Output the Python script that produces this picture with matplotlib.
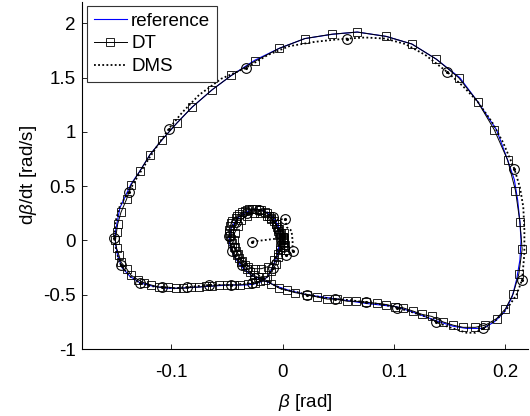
import numpy as np
import matplotlib.pyplot as plt

plt.rcParams['font.family'] = ['Liberation Sans', 'DejaVu Sans']
plt.rcParams['mathtext.fontset'] = 'custom'
plt.rcParams['mathtext.rm'] = 'Liberation Sans'
plt.rcParams['mathtext.it'] = 'Liberation Sans:italic'
plt.rcParams['axes.unicode_minus'] = False

# reference trajectory (beta [rad], dbeta/dt [rad/s])
ref_beta = [-0.002, -0.003, -0.005, -0.009, -0.013, -0.019, -0.025, -0.032, -0.048, -0.063,
            -0.077, -0.093, -0.104, -0.117, -0.128, -0.137, -0.144, -0.148, -0.150, -0.150,
            -0.148, -0.146, -0.141, -0.136, -0.128, -0.119, -0.108, -0.095, -0.081, -0.063,
            -0.046, -0.025, -0.003, 0.020, 0.045, 0.067, 0.093, 0.116, 0.138, 0.159,
            0.175, 0.192, 0.202, 0.208, 0.211, 0.213, 0.214, 0.213, 0.210, 0.206,
            0.199, 0.190, 0.180, 0.165, 0.153, 0.138, 0.117, 0.102, 0.075, 0.049,
            0.022, 0.006, -0.003, -0.012, -0.019, -0.028, -0.036, -0.042, -0.046, -0.048,
            -0.046, -0.040, -0.033, -0.024, -0.016, -0.009, -0.004, -0.002, 0.000]
ref_dbeta = [0.05, -0.04, -0.15, -0.245, -0.33, -0.38, -0.40, -0.41, -0.41, -0.42,
             -0.43, -0.44, -0.44, -0.42, -0.39, -0.33, -0.25, -0.14, -0.03, 0.08,
             0.19, 0.30, 0.41, 0.52, 0.64, 0.79, 0.93, 1.08, 1.23, 1.39,
             1.52, 1.66, 1.77, 1.86, 1.90, 1.92, 1.88, 1.81, 1.67, 1.50,
             1.28, 1.02, 0.74, 0.56, 0.37, 0.17, 0.00, -0.18, -0.36, -0.52,
             -0.66, -0.75, -0.81, -0.81, -0.79, -0.74, -0.66, -0.61, -0.58, -0.54,
             -0.50, -0.46, -0.43, -0.39, -0.36, -0.32, -0.25, -0.17, -0.09, 0.00,
             0.12, 0.21, 0.26, 0.29, 0.27, 0.22, 0.14, 0.07, 0.01]

# direct transcription (DT) samples
dt_beta = [-0.003, -0.001, 0.000, 0.001, 0.000, -0.002, -0.004, -0.006, -0.010, -0.014,
           -0.020, -0.025, -0.031, -0.038, -0.044, -0.050, -0.057, -0.063, -0.069, -0.075,
           -0.082, -0.089, -0.096, -0.103, -0.111, -0.118, -0.124, -0.130, -0.136, -0.140,
           -0.145, -0.147, -0.149, -0.150, -0.149, -0.148, -0.145, -0.140, -0.136, -0.128,
           -0.119, -0.108, -0.095, -0.081, -0.063, -0.046, -0.025, -0.003, 0.020, 0.044,
           0.067, 0.093, 0.116, 0.138, 0.158, 0.175, 0.190, 0.202, 0.209, 0.213,
           0.215, 0.212, 0.207, 0.200, 0.192, 0.182, 0.173, 0.162, 0.153, 0.144,
           0.134, 0.125, 0.117, 0.108, 0.101, 0.093, 0.085, 0.075, 0.066, 0.058,
           0.049, 0.040, 0.031, 0.022, 0.011, 0.004, -0.003, -0.010, -0.016, -0.022,
           -0.026, -0.029, -0.032, -0.034, -0.037, -0.039, -0.041, -0.042, -0.044, -0.045,
           -0.046, -0.047, -0.048, -0.048, -0.047, -0.046, -0.045, -0.042, -0.041, -0.039,
           -0.036, -0.034, -0.032, -0.030, -0.027, -0.024, -0.021, -0.019, -0.016, -0.014,
           -0.012, -0.010, -0.008, -0.006, -0.005, -0.004, -0.003, -0.002, -0.001, -0.002,
           -0.004, -0.008, -0.013, -0.019, -0.025, -0.031, -0.036, -0.040,
           -0.043, -0.044, -0.043, -0.040, -0.037, -0.032, -0.026, -0.020, -0.014, -0.010,
           -0.006, -0.004, -0.002, 0.000, 0.001, 0.001, 0.002, 0.002, 0.001, 0.001,
           0.000, 0.000]
dt_dbeta = [0.11, 0.07, 0.03, 0.00, -0.04, -0.09, -0.15, -0.22, -0.28, -0.34,
            -0.37, -0.39, -0.40, -0.41, -0.41, -0.41, -0.41, -0.42, -0.42, -0.43,
            -0.43, -0.44, -0.44, -0.43, -0.43, -0.41, -0.39, -0.36, -0.32, -0.26,
            -0.20, -0.13, -0.07, 0.00, 0.08, 0.15, 0.26, 0.38, 0.51, 0.64,
            0.79, 0.93, 1.08, 1.23, 1.39, 1.52, 1.65, 1.77, 1.86, 1.90,
            1.92, 1.88, 1.81, 1.67, 1.50, 1.28, 1.02, 0.74, 0.46, 0.17,
            -0.08, -0.31, -0.49, -0.63, -0.72, -0.78, -0.80, -0.80, -0.78, -0.75,
            -0.70, -0.68, -0.65, -0.62, -0.61, -0.59, -0.58, -0.57, -0.56, -0.56,
            -0.54, -0.54, -0.52, -0.50, -0.48, -0.46, -0.44, -0.40, -0.36, -0.34,
            -0.32, -0.29, -0.26, -0.23, -0.20, -0.16, -0.13, -0.10, -0.06, -0.02,
            0.01, 0.04, 0.07, 0.10, 0.13, 0.16, 0.18, 0.21, 0.23, 0.24,
            0.26, 0.27, 0.28, 0.29, 0.29, 0.29, 0.28, 0.28, 0.26, 0.25,
            0.23, 0.21, 0.18, 0.15, 0.12, 0.09, 0.05, 0.02, 0.00, -0.06,
            -0.12, -0.18, -0.24, -0.26, -0.26, -0.24, -0.19, -0.12,
            -0.06, 0.00, 0.07, 0.13, 0.19, 0.23, 0.25, 0.25, 0.23, 0.20,
            0.15, 0.11, 0.06, 0.01, -0.02, -0.06, -0.09, -0.04, 0.02, 0.07,
            0.03, -0.01]

# direct multiple shooting (DMS) trajectory and shooting nodes
dms_beta = [-0.027, -0.003, -0.004, -0.005, -0.009, -0.014, -0.021, -0.027, -0.036, -0.046,
            -0.056, -0.066, -0.076, -0.086, -0.097, -0.108, -0.119, -0.128, -0.137, -0.145,
            -0.149, -0.151, -0.150, -0.146, -0.138, -0.130, -0.119, -0.102, -0.090, -0.075,
            -0.055, -0.033, -0.013, 0.006, 0.029, 0.047, 0.058, 0.074, 0.092, 0.110,
            0.128, 0.148, 0.162, 0.175, 0.188, 0.198, 0.208, 0.213, 0.216, 0.217,
            0.217, 0.215, 0.210, 0.202, 0.192, 0.180, 0.173, 0.165, 0.156, 0.147,
            0.138, 0.128, 0.116, 0.103, 0.090, 0.075, 0.061, 0.047, 0.033, 0.022,
            0.011, 0.000, -0.009, -0.017, -0.025, -0.031, -0.036, -0.041, -0.045, -0.048,
            -0.048, -0.046, -0.042, -0.038, -0.032, -0.027, -0.021, -0.014, -0.009, -0.004,
            0.002, 0.004, 0.008, 0.009, 0.009, 0.005, 0.003, 0.000, -0.001]
dms_dbeta = [-0.01, 0.02, -0.05, -0.13, -0.25, -0.34, -0.38, -0.39, -0.40, -0.41,
             -0.41, -0.41, -0.42, -0.43, -0.44, -0.43, -0.42, -0.39, -0.33, -0.23,
             -0.11, 0.02, 0.17, 0.32, 0.45, 0.59, 0.77, 1.03, 1.18, 1.34,
             1.49, 1.59, 1.71, 1.79, 1.83, 1.85, 1.86, 1.87, 1.86, 1.81,
             1.71, 1.55, 1.42, 1.28, 1.09, 0.90, 0.66, 0.49, 0.31, 0.10,
             -0.12, -0.36, -0.50, -0.62, -0.73, -0.81, -0.85, -0.85, -0.82, -0.79,
             -0.75, -0.70, -0.66, -0.62, -0.59, -0.57, -0.55, -0.54, -0.52, -0.50,
             -0.47, -0.45, -0.40, -0.36, -0.35, -0.29, -0.23, -0.16, -0.10, -0.02,
             0.04, 0.12, 0.17, 0.23, 0.25, 0.28, 0.28, 0.26, 0.22, 0.19,
             0.20, 0.12, 0.09, 0.00, -0.10, -0.14, -0.13, -0.07, 0.00]
node_beta = [-0.027, -0.009, -0.027, -0.046, -0.066, -0.086, -0.108, -0.128, -0.145, -0.151,
             -0.138, -0.102, -0.033, 0.058, 0.148, 0.208, 0.215, 0.180, 0.138, 0.103,
             0.075, 0.047, 0.022, -0.025, -0.036, -0.045, -0.048, -0.042, -0.032, -0.021,
             -0.009, 0.002, 0.009, 0.003]
node_dbeta = [-0.01, -0.25, -0.39, -0.41, -0.41, -0.43, -0.43, -0.39, -0.23, 0.02,
              0.45, 1.03, 1.59, 1.86, 1.55, 0.66, -0.36, -0.81, -0.75, -0.62,
              -0.57, -0.54, -0.50, -0.35, -0.23, -0.10, 0.04, 0.17, 0.25, 0.28,
              0.22, 0.20, -0.10, -0.13]

xticks = [-0.1, 0, 0.1, 0.2]
xtick_labels = ['-0.1', '0', '0.1', '0.2']
yticks = [-1, -0.5, 0, 0.5, 1, 1.5, 2]
ytick_labels = ['-1', '-0.5', '0', '0.5', '1', '1.5', '2']

FS = 13.5

fig = plt.figure(figsize=(5.3, 4.16), dpi=100)
ax = fig.add_axes([0.1547, 0.161, 0.841, 0.835])

ax.plot(ref_beta, ref_dbeta, color='b', lw=0.8, label='reference')
ax.plot(dt_beta, dt_dbeta, 'k-', lw=0.7, marker='s', ms=5.5, mfc='none',
        mec='k', mew=0.6, label='DT')
ax.plot(dms_beta, dms_dbeta, color='k', lw=1.3, ls=(0, (1, 1.3)), label='DMS')
ax.plot(node_beta, node_dbeta, 'o', ms=7, mfc='none', mec='k', mew=0.8)
ax.plot(node_beta, node_dbeta, '.', ms=2.5, color='k')

ax.set_xlim(-0.18, 0.22)
ax.set_ylim(-1, 2.2)
ax.set_xticks(xticks)
ax.set_xticklabels(xtick_labels)
ax.set_yticks(yticks)
ax.set_yticklabels(ytick_labels)
ax.tick_params(direction='in', length=3.5, width=0.6, labelsize=FS)
ax.tick_params(axis='x', pad=11)
ax.tick_params(axis='y', pad=4.5)
for s in ['top', 'right']:
    ax.spines[s].set_visible(False)
for s in ['left', 'bottom']:
    ax.spines[s].set_linewidth(0.8)

ax.set_xlabel(r'$\beta$ [rad]', fontsize=FS, labelpad=8)
ax.set_ylabel(r'd$\beta$/dt [rad/s]', fontsize=FS, labelpad=3)

leg = ax.legend(loc='upper left', bbox_to_anchor=(87 / 530, 1 - 6 / 416),
                bbox_transform=fig.transFigure, borderaxespad=0, fancybox=False,
                fontsize=FS, handlelength=1.8, handletextpad=0.2, labelspacing=0.3,
                borderpad=0.35, framealpha=1)
leg.get_frame().set_edgecolor('0.2')
leg.get_frame().set_linewidth(0.8)

fig.savefig('out.png', dpi=100)
